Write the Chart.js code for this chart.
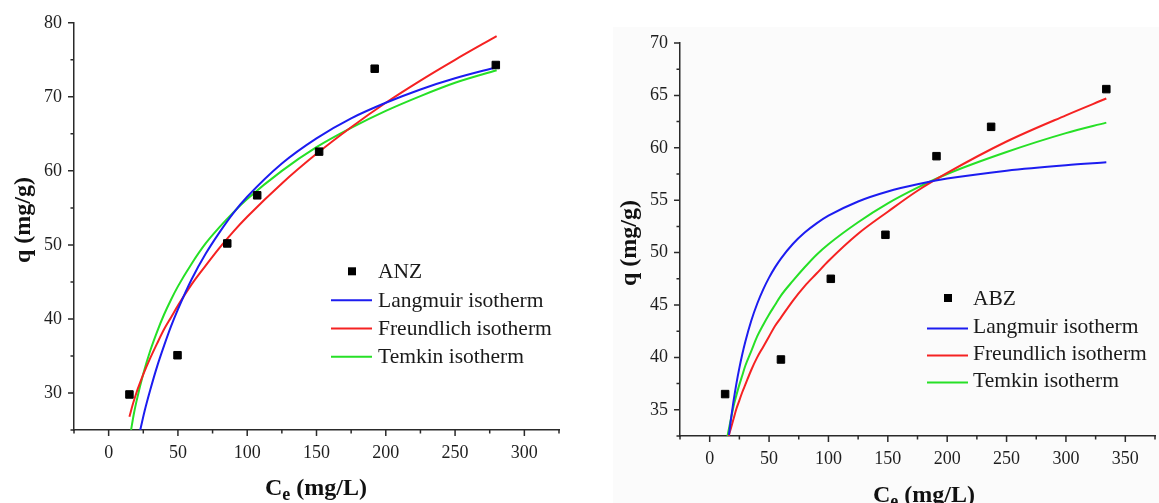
<!DOCTYPE html>
<html>
<head>
<meta charset="utf-8">
<script src="https://cdn.jsdelivr.net/npm/chart.js@4.4.1/dist/chart.umd.min.js"></script>
<style>
  html, body { margin: 0; padding: 0; background: #fff; overflow: hidden; }
  #wrap { position: relative; width: 1159px; height: 503px; overflow: hidden; }
  #panel { position: absolute; left: 613px; top: 27px; width: 546px; height: 476px; background: #fbfbfb; }
  #cLeft { position: absolute; left: 0; top: 0; width: 580px; height: 503px; }
  #cRight { position: absolute; left: 580px; top: 0; width: 587px; height: 503px; }
</style>
</head>
<body>
<div id="wrap">
  <div id="panel"></div>
  <canvas id="cLeft" width="580" height="503"></canvas>
  <canvas id="cRight" width="587" height="503"></canvas>
</div>
<script>
// ===== ANZ (left) =====
const anzCe = [15, 49.7, 85.6, 107.2, 151.9, 192, 279.4];
const anzQ  = [29.8, 35.1, 50.2, 56.7, 62.6, 73.8, 74.3];

const anzLangCe = [22.8, 26, 30, 35, 40, 45, 50, 60, 70, 80, 90, 100, 125, 150, 175, 200, 225, 250, 280];
const anzLangQ  = [25.0, 27.6, 30.4, 33.6, 36.4, 39.0, 41.3, 45.4, 48.8, 51.7, 54.3, 56.5, 61.0, 64.4, 67.1, 69.2, 71.0, 72.5, 74.0];
const anzFreuCe = [15, 17.5, 20, 25, 30, 35, 40, 45, 50, 60, 70, 80, 90, 100, 125, 150, 175, 200, 225, 250, 280];
const anzFreuQ  = [26.8, 28.5, 30.0, 32.5, 34.7, 36.7, 38.6, 40.2, 41.8, 44.7, 47.2, 49.6, 51.8, 53.8, 58.3, 62.3, 65.9, 69.2, 72.2, 75.0, 78.2];
const anzTemkCe = [16.2, 18, 20, 25, 30, 35, 40, 45, 50, 60, 70, 80, 90, 100, 125, 150, 175, 200, 225, 250, 280];
const anzTemkQ  = [25.0, 27.0, 28.8, 32.6, 35.7, 38.3, 40.6, 42.6, 44.4, 47.5, 50.2, 52.4, 54.4, 56.2, 60.0, 63.2, 65.8, 68.1, 70.1, 71.9, 73.6];

// ===== ABZ (right) =====
const abzCe = [13, 60, 102, 148, 191, 237, 334];
const abzQ  = [36.5, 39.8, 47.5, 51.7, 59.2, 62.0, 65.6];

const abzLangCe = [16.2, 18, 20, 22.5, 25, 27.5, 30, 35, 40, 45, 50, 55, 60, 70, 80, 90, 100, 125, 150, 175, 200, 250, 300, 334];
const abzLangQ  = [32.60, 34.19, 35.77, 37.50, 39.00, 40.33, 41.50, 43.50, 45.12, 46.47, 47.61, 48.59, 49.43, 50.82, 51.91, 52.79, 53.52, 54.88, 55.83, 56.52, 57.06, 57.82, 58.34, 58.61];
const abzFreuCe = [16, 18, 20, 22.5, 25, 27.5, 30, 35, 40, 45, 50, 55, 60, 70, 80, 90, 100, 125, 150, 175, 200, 250, 300, 334];
const abzFreuQ  = [32.5, 33.3, 34.1, 35.1, 35.9, 36.7, 37.4, 38.8, 40.0, 41.0, 42.0, 43.0, 43.8, 45.4, 46.8, 48.0, 49.2, 51.8, 53.9, 55.9, 57.6, 60.6, 63.1, 64.7];
const abzTemkCe = [15, 18, 20, 22.5, 25, 27.5, 30, 35, 40, 45, 50, 55, 60, 70, 80, 90, 100, 125, 150, 175, 200, 250, 300, 334];
const abzTemkQ  = [32.5, 34.2, 35.3, 36.4, 37.4, 38.3, 39.2, 40.6, 42.0, 43.1, 44.1, 45.0, 45.9, 47.3, 48.6, 49.8, 50.8, 52.9, 54.7, 56.2, 57.5, 59.6, 61.4, 62.4];

const curveNames = ["Langmuir isotherm", "Freundlich isotherm", "Temkin isotherm"];
const curveColors = ["#1c1cf0", "#f52222", "#26e026"];

const axisColor = "#2a2a2a";
const serif = "'Liberation Serif', 'Times New Roman', serif";

function pts(xs, ys) {
  return xs.map((x, i) => ({ x: x, y: ys[i] }));
}

function buildDatasets(name, ce, q, curves) {
  const ds = [{
    label: name,
    data: pts(ce, q),
    showLine: false,
    pointStyle: "rect",
    pointRadius: 5.3,
    pointBorderWidth: 1,
    pointBackgroundColor: "#000",
    pointBorderColor: "#000"
  }];
  curves.forEach((c, i) => {
    ds.push({
      label: curveNames[i],
      data: pts(c[0], c[1]),
      showLine: true,
      borderColor: curveColors[i],
      borderWidth: 2,
      pointRadius: 0,
      fill: false,
      cubicInterpolationMode: "monotone"
    });
  });
  return ds;
}

// ticks (major/minor), axis titles with subscript, and the inner legend
const decor = {
  id: "decor",
  afterDraw(chart, args, o) {
    const ctx = chart.ctx;
    const xs = chart.scales.x, ys = chart.scales.y;
    ctx.save();
    ctx.strokeStyle = axisColor;
    ctx.lineWidth = 1.5;
    ctx.beginPath();
    xs.ticks.forEach(t => {
      const px = xs.getPixelForValue(t.value);
      const len = t.label !== "" ? 6 : 3.5;
      ctx.moveTo(px, xs.top);
      ctx.lineTo(px, xs.top + len);
    });
    ys.ticks.forEach(t => {
      const py = ys.getPixelForValue(t.value);
      const len = t.label !== "" ? 6 : 3.5;
      ctx.moveTo(ys.right, py);
      ctx.lineTo(ys.right - len, py);
    });
    ctx.stroke();

    // x title: C_e (mg/L)
    ctx.fillStyle = "#111";
    ctx.textBaseline = "alphabetic";
    ctx.textAlign = "left";
    const big = "bold 24px " + serif, small = "bold 18px " + serif;
    ctx.font = big;
    const wC = ctx.measureText("C").width;
    const wRest = ctx.measureText(" (mg/L)").width;
    ctx.font = small;
    const wE = ctx.measureText("e").width;
    let tx = o.xTitle.x - (wC + wE + wRest) / 2;
    ctx.font = big;
    ctx.fillText("C", tx, o.xTitle.y);
    ctx.font = small;
    ctx.fillText("e", tx + wC, o.xTitle.y + 5);
    ctx.font = big;
    ctx.fillText(" (mg/L)", tx + wC + wE, o.xTitle.y);

    // y title
    ctx.save();
    ctx.translate(o.yTitle.x, o.yTitle.y);
    ctx.rotate(-Math.PI / 2);
    ctx.textAlign = "center";
    ctx.fillText("q (mg/g)", 0, 0);
    ctx.restore();

    // legend
    const lg = o.legend;
    ctx.font = "21.5px " + serif;
    ctx.textAlign = "left";
    ctx.fillStyle = "#1a1a1a";
    chart.data.datasets.forEach((ds, i) => {
      const yb = lg.rows[i];
      if (ds.showLine) {
        ctx.strokeStyle = ds.borderColor;
        ctx.lineWidth = 2;
        ctx.beginPath();
        ctx.moveTo(lg.lineX0, yb - lg.lineOff);
        ctx.lineTo(lg.lineX1, yb - lg.lineOff);
        ctx.stroke();
      } else {
        ctx.fillStyle = "#000";
        ctx.fillRect(lg.markX - 4, yb - 7 - 4, 8, 8);
        ctx.fillStyle = "#1a1a1a";
      }
      ctx.fillText(ds.label, lg.textX, yb);
    });
    ctx.restore();
  }
};

function makeChart(id, datasets, sc, pad, decorOpts) {
  const tickFont = { family: serif, size: 18 };
  return new Chart(document.getElementById(id), {
    type: "scatter",
    data: { datasets: datasets },
    plugins: [decor],
    options: {
      responsive: false,
      animation: false,
      devicePixelRatio: 1,
      layout: { padding: pad },
      plugins: {
        legend: { display: false },
        tooltip: { enabled: false },
        decor: decorOpts
      },
      scales: {
        x: {
          type: "linear",
          min: sc.xMin, max: sc.xMax,
          afterFit: s => { s.height = sc.xHeight; },
          grid: { display: false, drawTicks: false, tickLength: 0 },
          border: { display: true, color: axisColor, width: 1.5 },
          ticks: {
            stepSize: 25, autoSkip: false, maxRotation: 0, padding: 12,
            font: tickFont, color: "#1e1e1e",
            callback: v => (v % 50 === 0 ? v : "")
          }
        },
        y: {
          type: "linear",
          min: sc.yMin, max: sc.yMax,
          afterFit: s => { s.width = sc.yWidth; },
          grid: { display: false, drawTicks: false, tickLength: 0 },
          border: { display: true, color: axisColor, width: 1.5 },
          ticks: {
            stepSize: sc.yStep, autoSkip: false, padding: 12,
            font: tickFont, color: "#1e1e1e",
            callback: v => (v % sc.yMajor === 0 ? v : "")
          }
        }
      }
    }
  });
}

makeChart("cLeft",
  buildDatasets("ANZ", anzCe, anzQ, [[anzLangCe, anzLangQ], [anzFreuCe, anzFreuQ], [anzTemkCe, anzTemkQ]]),
  { xMin: -25, xMax: 325, yMin: 25, yMax: 80, yStep: 5, yMajor: 10, xHeight: 73, yWidth: 74 },
  { top: 20, right: 21, left: 0, bottom: 0 },
  {
    xTitle: { x: 316, y: 495 },
    yTitle: { x: 30, y: 220 },
    legend: { markX: 352, textX: 378, lineX0: 331, lineX1: 372, lineOff: 6.5, rows: [278.3, 306.7, 335, 363.3] }
  }
);

makeChart("cRight",
  buildDatasets("ABZ", abzCe, abzQ, [[abzLangCe, abzLangQ], [abzFreuCe, abzFreuQ], [abzTemkCe, abzTemkQ]]),
  { xMin: -25, xMax: 375, yMin: 32.5, yMax: 70, yStep: 2.5, yMajor: 5, xHeight: 67, yWidth: 100 },
  { top: 43, right: 0, left: 0, bottom: 0 },
  {
    xTitle: { x: 344, y: 502 },
    yTitle: { x: 56, y: 243 },
    legend: { markX: 368, textX: 393, lineX0: 347, lineX1: 388, lineOff: 4, rows: [305, 332.5, 359.5, 386.5] }
  }
);
</script>
</body>
</html>
